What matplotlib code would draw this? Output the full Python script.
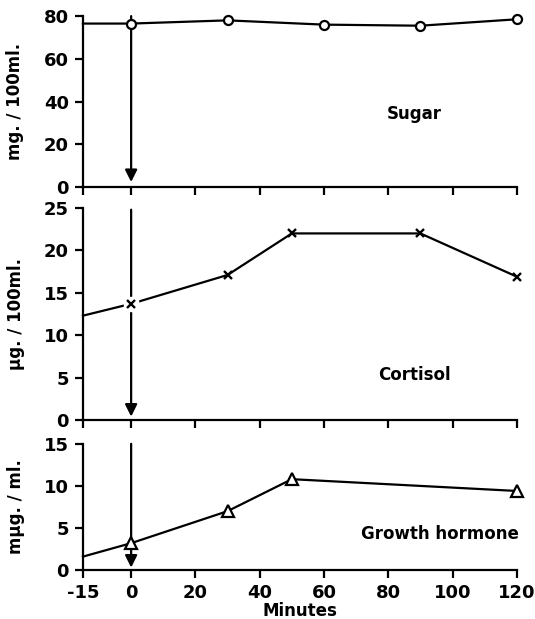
import numpy as np
import matplotlib
matplotlib.use("Agg")
import matplotlib.pyplot as plt

plt.rcParams['font.family'] = ['DejaVu Sans']

# data
minutes = [-15, 0, 30, 60, 90, 120]
sugar = [76.5, 76.5, 78, 76, 75.5, 78.5]

cort_min = [-15, 0, 30, 50, 90, 120]
cortisol = [12.3, 13.7, 17.1, 22.0, 22.0, 16.9]

gh_min = [-15, 0, 30, 50, 120]
gh = [1.6, 3.2, 7.0, 10.8, 9.4]

xticks = [-15, 0, 20, 40, 60, 80, 100, 120]

fig = plt.figure(figsize=(5.35, 6.19), dpi=100)
L, W = 0.155, 0.811
ax1 = fig.add_axes([L, 0.698, W, 0.276])
ax2 = fig.add_axes([L, 0.3215, W, 0.3425])
ax3 = fig.add_axes([L, 0.079, W, 0.204])

lw = 1.6
for ax in (ax1, ax2, ax3):
    ax.spines['top'].set_visible(False)
    ax.spines['right'].set_visible(False)
    ax.spines['left'].set_linewidth(lw)
    ax.spines['bottom'].set_linewidth(lw)
    ax.set_xticks(xticks)
    ax.set_xlim(-15, 120)
    ax.tick_params(width=lw, length=6, labelsize=13, pad=4)
    for t in ax.get_yticklabels():
        t.set_fontweight('bold')

def arrow(ax, top, tip):
    ax.annotate('', xy=(0, tip), xytext=(0, top),
                arrowprops=dict(arrowstyle='-|>', lw=lw, color='k',
                                mutation_scale=18, shrinkA=0, shrinkB=0),
                zorder=1, annotation_clip=False)

# Sugar
ax1.set_ylim(0, 80)
ax1.set_yticks([0, 20, 40, 60, 80])
arrow(ax1, 80, 2.3)
ax1.plot(minutes, sugar, color='k', lw=lw, zorder=2, clip_on=False)
ax1.plot(minutes[1:], sugar[1:], 'o', ms=6.5, mfc='white', mec='k', mew=1.6, zorder=3, clip_on=False)
ax1.set_ylabel('mg. / 100ml.', fontsize=12, fontweight='bold', labelpad=14)
ax1.text(88, 34, 'Sugar', fontsize=12, fontweight='bold', ha='center', va='center')
ax1.set_xticklabels([])

# Cortisol
ax2.set_ylim(0, 25)
ax2.set_yticks([0, 5, 10, 15, 20, 25])
arrow(ax2, 24.8, 0.4)
ax2.plot(cort_min, cortisol, color='k', lw=lw, zorder=2, clip_on=False)
ax2.plot(cort_min[1:2], cortisol[1:2], 's', ms=10, mfc='white', mec='white', zorder=3)
ax2.plot(cort_min[1:], cortisol[1:], 'x', ms=6, mec='k', mew=1.7, zorder=4, clip_on=False)
ax2.set_ylabel('µg. / 100ml.', fontsize=12, fontweight='bold', labelpad=14)
ax2.text(88, 5.3, 'Cortisol', fontsize=12, fontweight='bold', ha='center', va='center')
ax2.set_xticklabels([])

# Growth hormone
ax3.set_ylim(0, 15)
ax3.set_yticks([0, 5, 10, 15])
arrow(ax3, 15, 0.3)
ax3.plot(gh_min, gh, color='k', lw=lw, zorder=2, clip_on=False)
ax3.plot(gh_min[1:], gh[1:], '^', ms=8, mfc='white', mec='k', mew=1.6, zorder=3, clip_on=False)
ax3.set_ylabel('mµg. / ml.', fontsize=12, fontweight='bold', labelpad=14)
ax3.text(96, 4.3, 'Growth hormone', fontsize=12, fontweight='bold', ha='center', va='center')
ax3.set_xticklabels([str(v) for v in xticks], fontweight='bold')
ax3.set_xlabel('Minutes', fontsize=12, fontweight='bold', labelpad=0)

fig.savefig('out.png', dpi=100)
